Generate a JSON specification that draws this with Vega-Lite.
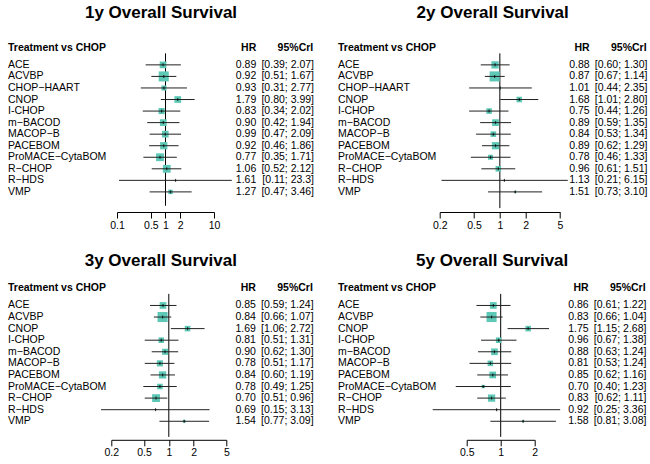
{
  "$schema": "https://vega.github.io/schema/vega-lite/v6.json",
  "padding": {"left": 8, "top": 3, "right": 2, "bottom": 2},
  "background": "white",
  "datasets": {
    "os1": [
      {"t": "ACE", "row": 1, "hr": 0.89, "lo": 0.39, "hi": 2.07, "ci": "[0.39; 2.07]", "w": 6},
      {"t": "ACVBP", "row": 2, "hr": 0.92, "lo": 0.51, "hi": 1.67, "ci": "[0.51; 1.67]", "w": 9},
      {"t": "CHOP−HAART", "row": 3, "hr": 0.93, "lo": 0.31, "hi": 2.77, "ci": "[0.31; 2.77]", "w": 4.5},
      {"t": "CNOP", "row": 4, "hr": 1.79, "lo": 0.80, "hi": 3.99, "ci": "[0.80; 3.99]", "w": 6},
      {"t": "I-CHOP", "row": 5, "hr": 0.83, "lo": 0.34, "hi": 2.02, "ci": "[0.34; 2.02]", "w": 5.5},
      {"t": "m−BACOD", "row": 6, "hr": 0.90, "lo": 0.42, "hi": 1.94, "ci": "[0.42; 1.94]", "w": 6},
      {"t": "MACOP−B", "row": 7, "hr": 0.99, "lo": 0.47, "hi": 2.09, "ci": "[0.47; 2.09]", "w": 6},
      {"t": "PACEBOM", "row": 8, "hr": 0.92, "lo": 0.46, "hi": 1.86, "ci": "[0.46; 1.86]", "w": 6.5},
      {"t": "ProMACE−CytaBOM", "row": 9, "hr": 0.77, "lo": 0.35, "hi": 1.71, "ci": "[0.35; 1.71]", "w": 7},
      {"t": "R−CHOP", "row": 10, "hr": 1.06, "lo": 0.52, "hi": 2.12, "ci": "[0.52; 2.12]", "w": 7},
      {"t": "R−HDS", "row": 11, "hr": 1.61, "lo": 0.11, "hi": 23.3, "ci": "[0.11; 23.3]", "w": 0.8},
      {"t": "VMP", "row": 12, "hr": 1.27, "lo": 0.47, "hi": 3.46, "ci": "[0.47; 3.46]", "w": 4}
    ],
    "os2": [
      {"t": "ACE", "row": 1, "hr": 0.88, "lo": 0.60, "hi": 1.30, "ci": "[0.60; 1.30]", "w": 6.5},
      {"t": "ACVBP", "row": 2, "hr": 0.87, "lo": 0.67, "hi": 1.14, "ci": "[0.67; 1.14]", "w": 9},
      {"t": "CHOP−HAART", "row": 3, "hr": 1.01, "lo": 0.44, "hi": 2.35, "ci": "[0.44; 2.35]", "w": 1.5},
      {"t": "CNOP", "row": 4, "hr": 1.68, "lo": 1.01, "hi": 2.80, "ci": "[1.01; 2.80]", "w": 5},
      {"t": "I-CHOP", "row": 5, "hr": 0.75, "lo": 0.44, "hi": 1.26, "ci": "[0.44; 1.26]", "w": 5},
      {"t": "m−BACOD", "row": 6, "hr": 0.89, "lo": 0.59, "hi": 1.35, "ci": "[0.59; 1.35]", "w": 6},
      {"t": "MACOP−B", "row": 7, "hr": 0.84, "lo": 0.53, "hi": 1.34, "ci": "[0.53; 1.34]", "w": 5},
      {"t": "PACEBOM", "row": 8, "hr": 0.89, "lo": 0.62, "hi": 1.29, "ci": "[0.62; 1.29]", "w": 6.5},
      {"t": "ProMACE−CytaBOM", "row": 9, "hr": 0.78, "lo": 0.46, "hi": 1.33, "ci": "[0.46; 1.33]", "w": 4.5},
      {"t": "R−CHOP", "row": 10, "hr": 0.96, "lo": 0.61, "hi": 1.51, "ci": "[0.61; 1.51]", "w": 5},
      {"t": "R−HDS", "row": 11, "hr": 1.13, "lo": 0.21, "hi": 6.15, "ci": "[0.21; 6.15]", "w": 0.8},
      {"t": "VMP", "row": 12, "hr": 1.51, "lo": 0.73, "hi": 3.10, "ci": "[0.73; 3.10]", "w": 2}
    ],
    "os3": [
      {"t": "ACE", "row": 1, "hr": 0.85, "lo": 0.59, "hi": 1.24, "ci": "[0.59; 1.24]", "w": 6},
      {"t": "ACVBP", "row": 2, "hr": 0.84, "lo": 0.66, "hi": 1.07, "ci": "[0.66; 1.07]", "w": 9},
      {"t": "CNOP", "row": 3, "hr": 1.69, "lo": 1.06, "hi": 2.72, "ci": "[1.06; 2.72]", "w": 5},
      {"t": "I-CHOP", "row": 4, "hr": 0.81, "lo": 0.51, "hi": 1.31, "ci": "[0.51; 1.31]", "w": 5},
      {"t": "m−BACOD", "row": 5, "hr": 0.90, "lo": 0.62, "hi": 1.30, "ci": "[0.62; 1.30]", "w": 5.5},
      {"t": "MACOP−B", "row": 6, "hr": 0.78, "lo": 0.51, "hi": 1.17, "ci": "[0.51; 1.17]", "w": 5.5},
      {"t": "PACEBOM", "row": 7, "hr": 0.84, "lo": 0.60, "hi": 1.19, "ci": "[0.60; 1.19]", "w": 6.5},
      {"t": "ProMACE−CytaBOM", "row": 8, "hr": 0.78, "lo": 0.49, "hi": 1.25, "ci": "[0.49; 1.25]", "w": 5},
      {"t": "R−CHOP", "row": 9, "hr": 0.70, "lo": 0.51, "hi": 0.96, "ci": "[0.51; 0.96]", "w": 7},
      {"t": "R−HDS", "row": 10, "hr": 0.69, "lo": 0.15, "hi": 3.13, "ci": "[0.15; 3.13]", "w": 1},
      {"t": "VMP", "row": 11, "hr": 1.54, "lo": 0.77, "hi": 3.09, "ci": "[0.77; 3.09]", "w": 2.5}
    ],
    "os5": [
      {"t": "ACE", "row": 1, "hr": 0.86, "lo": 0.61, "hi": 1.22, "ci": "[0.61; 1.22]", "w": 6},
      {"t": "ACVBP", "row": 2, "hr": 0.83, "lo": 0.66, "hi": 1.04, "ci": "[0.66; 1.04]", "w": 9},
      {"t": "CNOP", "row": 3, "hr": 1.75, "lo": 1.15, "hi": 2.68, "ci": "[1.15; 2.68]", "w": 5},
      {"t": "I-CHOP", "row": 4, "hr": 0.96, "lo": 0.67, "hi": 1.38, "ci": "[0.67; 1.38]", "w": 5},
      {"t": "m−BACOD", "row": 5, "hr": 0.88, "lo": 0.63, "hi": 1.24, "ci": "[0.63; 1.24]", "w": 6},
      {"t": "MACOP−B", "row": 6, "hr": 0.81, "lo": 0.53, "hi": 1.24, "ci": "[0.53; 1.24]", "w": 5},
      {"t": "PACEBOM", "row": 7, "hr": 0.85, "lo": 0.62, "hi": 1.16, "ci": "[0.62; 1.16]", "w": 6},
      {"t": "ProMACE−CytaBOM", "row": 8, "hr": 0.70, "lo": 0.40, "hi": 1.23, "ci": "[0.40; 1.23]", "w": 3},
      {"t": "R−CHOP", "row": 9, "hr": 0.83, "lo": 0.62, "hi": 1.11, "ci": "[0.62; 1.11]", "w": 6.5},
      {"t": "R−HDS", "row": 10, "hr": 0.92, "lo": 0.25, "hi": 3.36, "ci": "[0.25; 3.36]", "w": 1},
      {"t": "VMP", "row": 11, "hr": 1.58, "lo": 0.81, "hi": 3.08, "ci": "[0.81; 3.08]", "w": 2}
    ]
  },
  "vconcat": [
    {
      "spacing": 24,
      "hconcat": [
        {
          "title": {"text": "1y Overall Survival", "offset": 14.5},
          "bounds": "flush",
          "spacing": 22,
          "hconcat": [
            {
              "width": 87, "height": 176,
              "layer": [
                {"data": {"name": "os1"}, "mark": {"type": "text", "align": "left", "baseline": "middle", "fontSize": 10.5, "color": "black"},
                 "encoding": {"x": {"datum": 0, "type": "quantitative", "scale": {"domain": [0, 1]}, "axis": null},
                              "y": {"field": "row", "type": "quantitative", "scale": {"domain": [-1.5, 13.74], "reverse": true, "nice": false, "zero": false}, "axis": null},
                              "text": {"field": "t"}}},
                {"data": {"values": [{}]}, "mark": {"type": "text", "align": "left", "baseline": "middle", "fontSize": 10.5, "fontWeight": "bold", "color": "black"},
                 "encoding": {"x": {"datum": 0, "type": "quantitative"}, "y": {"datum": -0.5, "type": "quantitative"}, "text": {"value": "Treatment vs CHOP"}}}
              ]
            },
            {
              "width": 97, "height": 176,
              "data": {"name": "os1"},
              "layer": [
                {"data": {"values": [{}]}, "mark": {"type": "rule", "color": "black", "strokeWidth": 1},
                 "encoding": {"x": {"datum": 1, "type": "quantitative", "scale": {"type": "log", "domain": [0.1, 10], "nice": false},
                                    "axis": {"values": [0.1, 0.5, 1, 2, 10], "format": "~g", "title": null, "labelFlush": false, "labelOverlap": false, "labelBound": false, "grid": false}},
                              "y": {"datum": 0, "type": "quantitative", "scale": {"domain": [-1.5, 13.74], "reverse": true, "nice": false, "zero": false}, "axis": null},
                              "y2": {"datum": 13.2}}},
                {"mark": {"type": "point", "shape": "square", "filled": true, "color": "#5ec8b7", "opacity": 1},
                 "encoding": {"x": {"field": "hr", "type": "quantitative"}, "y": {"field": "row", "type": "quantitative"},
                              "size": {"field": "w", "type": "quantitative", "scale": {"type": "pow", "exponent": 2, "domain": [0, 10], "range": [0, 125]}, "legend": null}}},
                {"mark": {"type": "rule", "color": "#222222", "strokeWidth": 1},
                 "encoding": {"x": {"field": "lo", "type": "quantitative"}, "x2": {"field": "hi"}, "y": {"field": "row", "type": "quantitative"}}},
                {"mark": {"type": "tick", "orient": "vertical", "size": 3, "thickness": 1.2, "color": "black"},
                 "encoding": {"x": {"field": "hr", "type": "quantitative"}, "y": {"field": "row", "type": "quantitative"}}}
              ]
            },
            {
              "width": 78, "height": 176,
              "layer": [
                {"data": {"name": "os1"}, "mark": {"type": "text", "align": "right", "baseline": "middle", "fontSize": 10.5, "color": "black"},
                 "encoding": {"x": {"datum": 0.26, "type": "quantitative", "scale": {"domain": [0, 1]}, "axis": null},
                              "y": {"field": "row", "type": "quantitative", "scale": {"domain": [-1.5, 13.74], "reverse": true, "nice": false, "zero": false}, "axis": null},
                              "text": {"field": "hr", "format": ".2f"}}},
                {"data": {"name": "os1"}, "mark": {"type": "text", "align": "right", "baseline": "middle", "fontSize": 10.5, "color": "black"},
                 "encoding": {"x": {"datum": 1, "type": "quantitative"}, "y": {"field": "row", "type": "quantitative"}, "text": {"field": "ci"}}},
                {"data": {"values": [{}]}, "mark": {"type": "text", "align": "right", "baseline": "middle", "fontSize": 10.5, "fontWeight": "bold", "color": "black"},
                 "encoding": {"x": {"datum": 0.26, "type": "quantitative"}, "y": {"datum": -0.5, "type": "quantitative"}, "text": {"value": "HR"}}},
                {"data": {"values": [{}]}, "mark": {"type": "text", "align": "right", "baseline": "middle", "fontSize": 10.5, "fontWeight": "bold", "color": "black"},
                 "encoding": {"x": {"datum": 0.99, "type": "quantitative"}, "y": {"datum": -0.5, "type": "quantitative"}, "text": {"value": "95%CrI"}}}
              ]
            }
          ]
        },
        {
          "title": {"text": "2y Overall Survival", "offset": 14.5},
          "bounds": "flush",
          "spacing": 8.7,
          "hconcat": [
            {
              "width": 93, "height": 176,
              "layer": [
                {"data": {"name": "os2"}, "mark": {"type": "text", "align": "left", "baseline": "middle", "fontSize": 10.5, "color": "black"},
                 "encoding": {"x": {"datum": 0, "type": "quantitative", "scale": {"domain": [0, 1]}, "axis": null},
                              "y": {"field": "row", "type": "quantitative", "scale": {"domain": [-1.5, 13.74], "reverse": true, "nice": false, "zero": false}, "axis": null},
                              "text": {"field": "t"}}},
                {"data": {"values": [{}]}, "mark": {"type": "text", "align": "left", "baseline": "middle", "fontSize": 10.5, "fontWeight": "bold", "color": "black"},
                 "encoding": {"x": {"datum": 0, "type": "quantitative"}, "y": {"datum": -0.5, "type": "quantitative"}, "text": {"value": "Treatment vs CHOP"}}}
              ]
            },
            {
              "width": 120.3, "height": 176,
              "data": {"name": "os2"},
              "layer": [
                {"data": {"values": [{}]}, "mark": {"type": "rule", "color": "black", "strokeWidth": 1},
                 "encoding": {"x": {"datum": 1, "type": "quantitative", "scale": {"type": "log", "domain": [0.2, 5], "nice": false},
                                    "axis": {"values": [0.2, 0.5, 1, 2, 5], "format": "~g", "title": null, "labelFlush": false, "labelOverlap": false, "labelBound": false, "grid": false}},
                              "y": {"datum": 0, "type": "quantitative", "scale": {"domain": [-1.5, 13.74], "reverse": true, "nice": false, "zero": false}, "axis": null},
                              "y2": {"datum": 13.4}}},
                {"mark": {"type": "point", "shape": "square", "filled": true, "color": "#5ec8b7", "opacity": 1},
                 "encoding": {"x": {"field": "hr", "type": "quantitative"}, "y": {"field": "row", "type": "quantitative"},
                              "size": {"field": "w", "type": "quantitative", "scale": {"type": "pow", "exponent": 2, "domain": [0, 10], "range": [0, 125]}, "legend": null}}},
                {"mark": {"type": "rule", "color": "#222222", "strokeWidth": 1},
                 "encoding": {"x": {"field": "lo", "type": "quantitative"}, "x2": {"field": "hi"}, "y": {"field": "row", "type": "quantitative"}}},
                {"mark": {"type": "tick", "orient": "vertical", "size": 3, "thickness": 1.2, "color": "black"},
                 "encoding": {"x": {"field": "hr", "type": "quantitative"}, "y": {"field": "row", "type": "quantitative"}}}
              ]
            },
            {
              "width": 78, "height": 176,
              "layer": [
                {"data": {"name": "os2"}, "mark": {"type": "text", "align": "right", "baseline": "middle", "fontSize": 10.5, "color": "black"},
                 "encoding": {"x": {"datum": 0.26, "type": "quantitative", "scale": {"domain": [0, 1]}, "axis": null},
                              "y": {"field": "row", "type": "quantitative", "scale": {"domain": [-1.5, 13.74], "reverse": true, "nice": false, "zero": false}, "axis": null},
                              "text": {"field": "hr", "format": ".2f"}}},
                {"data": {"name": "os2"}, "mark": {"type": "text", "align": "right", "baseline": "middle", "fontSize": 10.5, "color": "black"},
                 "encoding": {"x": {"datum": 1, "type": "quantitative"}, "y": {"field": "row", "type": "quantitative"}, "text": {"field": "ci"}}},
                {"data": {"values": [{}]}, "mark": {"type": "text", "align": "right", "baseline": "middle", "fontSize": 10.5, "fontWeight": "bold", "color": "black"},
                 "encoding": {"x": {"datum": 0.26, "type": "quantitative"}, "y": {"datum": -0.5, "type": "quantitative"}, "text": {"value": "HR"}}},
                {"data": {"values": [{}]}, "mark": {"type": "text", "align": "right", "baseline": "middle", "fontSize": 10.5, "fontWeight": "bold", "color": "black"},
                 "encoding": {"x": {"datum": 0.99, "type": "quantitative"}, "y": {"datum": -0.5, "type": "quantitative"}, "text": {"value": "95%CrI"}}}
              ]
            }
          ]
        }
      ]
    },
    {
      "spacing": 24,
      "hconcat": [
        {
          "title": {"text": "3y Overall Survival", "offset": 6.5},
          "bounds": "flush",
          "spacing": 9.3,
          "hconcat": [
            {
              "width": 93.7, "height": 163.3,
              "layer": [
                {"data": {"name": "os3"}, "mark": {"type": "text", "align": "left", "baseline": "middle", "fontSize": 10.5, "color": "black"},
                 "encoding": {"x": {"datum": 0, "type": "quantitative", "scale": {"domain": [0, 1]}, "axis": null},
                              "y": {"field": "row", "type": "quantitative", "scale": {"domain": [-1.5, 12.6], "reverse": true, "nice": false, "zero": false}, "axis": null},
                              "text": {"field": "t"}}},
                {"data": {"values": [{}]}, "mark": {"type": "text", "align": "left", "baseline": "middle", "fontSize": 10.5, "fontWeight": "bold", "color": "black"},
                 "encoding": {"x": {"datum": 0, "type": "quantitative"}, "y": {"datum": -0.5, "type": "quantitative"}, "text": {"value": "Treatment vs CHOP"}}}
              ]
            },
            {
              "width": 115, "height": 163.3,
              "data": {"name": "os3"},
              "layer": [
                {"data": {"values": [{}]}, "mark": {"type": "rule", "color": "black", "strokeWidth": 1},
                 "encoding": {"x": {"datum": 1, "type": "quantitative", "scale": {"type": "log", "domain": [0.2, 5], "nice": false},
                                    "axis": {"values": [0.2, 0.5, 1, 2, 5], "format": "~g", "title": null, "labelFlush": false, "labelOverlap": false, "labelBound": false, "grid": false}},
                              "y": {"datum": 0, "type": "quantitative", "scale": {"domain": [-1.5, 12.6], "reverse": true, "nice": false, "zero": false}, "axis": null},
                              "y2": {"datum": 12.35}}},
                {"mark": {"type": "point", "shape": "square", "filled": true, "color": "#5ec8b7", "opacity": 1},
                 "encoding": {"x": {"field": "hr", "type": "quantitative"}, "y": {"field": "row", "type": "quantitative"},
                              "size": {"field": "w", "type": "quantitative", "scale": {"type": "pow", "exponent": 2, "domain": [0, 10], "range": [0, 125]}, "legend": null}}},
                {"mark": {"type": "rule", "color": "#222222", "strokeWidth": 1},
                 "encoding": {"x": {"field": "lo", "type": "quantitative"}, "x2": {"field": "hi"}, "y": {"field": "row", "type": "quantitative"}}},
                {"mark": {"type": "tick", "orient": "vertical", "size": 3, "thickness": 1.2, "color": "black"},
                 "encoding": {"x": {"field": "hr", "type": "quantitative"}, "y": {"field": "row", "type": "quantitative"}}}
              ]
            },
            {
              "width": 78, "height": 163.3,
              "layer": [
                {"data": {"name": "os3"}, "mark": {"type": "text", "align": "right", "baseline": "middle", "fontSize": 10.5, "color": "black"},
                 "encoding": {"x": {"datum": 0.26, "type": "quantitative", "scale": {"domain": [0, 1]}, "axis": null},
                              "y": {"field": "row", "type": "quantitative", "scale": {"domain": [-1.5, 12.6], "reverse": true, "nice": false, "zero": false}, "axis": null},
                              "text": {"field": "hr", "format": ".2f"}}},
                {"data": {"name": "os3"}, "mark": {"type": "text", "align": "right", "baseline": "middle", "fontSize": 10.5, "color": "black"},
                 "encoding": {"x": {"datum": 1, "type": "quantitative"}, "y": {"field": "row", "type": "quantitative"}, "text": {"field": "ci"}}},
                {"data": {"values": [{}]}, "mark": {"type": "text", "align": "right", "baseline": "middle", "fontSize": 10.5, "fontWeight": "bold", "color": "black"},
                 "encoding": {"x": {"datum": 0.26, "type": "quantitative"}, "y": {"datum": -0.5, "type": "quantitative"}, "text": {"value": "HR"}}},
                {"data": {"values": [{}]}, "mark": {"type": "text", "align": "right", "baseline": "middle", "fontSize": 10.5, "fontWeight": "bold", "color": "black"},
                 "encoding": {"x": {"datum": 0.99, "type": "quantitative"}, "y": {"datum": -0.5, "type": "quantitative"}, "text": {"value": "95%CrI"}}}
              ]
            }
          ]
        },
        {
          "title": {"text": "5y Overall Survival", "offset": 6.5},
          "bounds": "flush",
          "spacing": 33.7,
          "hconcat": [
            {
              "width": 94.3, "height": 163.3,
              "layer": [
                {"data": {"name": "os5"}, "mark": {"type": "text", "align": "left", "baseline": "middle", "fontSize": 10.5, "color": "black"},
                 "encoding": {"x": {"datum": 0, "type": "quantitative", "scale": {"domain": [0, 1]}, "axis": null},
                              "y": {"field": "row", "type": "quantitative", "scale": {"domain": [-1.5, 12.6], "reverse": true, "nice": false, "zero": false}, "axis": null},
                              "text": {"field": "t"}}},
                {"data": {"values": [{}]}, "mark": {"type": "text", "align": "left", "baseline": "middle", "fontSize": 10.5, "fontWeight": "bold", "color": "black"},
                 "encoding": {"x": {"datum": 0, "type": "quantitative"}, "y": {"datum": -0.5, "type": "quantitative"}, "text": {"value": "Treatment vs CHOP"}}}
              ]
            },
            {
              "width": 68, "height": 163.3,
              "data": {"name": "os5"},
              "layer": [
                {"data": {"values": [{}]}, "mark": {"type": "rule", "color": "black", "strokeWidth": 1},
                 "encoding": {"x": {"datum": 1, "type": "quantitative", "scale": {"type": "log", "domain": [0.5, 2], "nice": false},
                                    "axis": {"values": [0.5, 1, 2], "format": "~g", "title": null, "labelFlush": false, "labelOverlap": false, "labelBound": false, "grid": false}},
                              "y": {"datum": 0, "type": "quantitative", "scale": {"domain": [-1.5, 12.6], "reverse": true, "nice": false, "zero": false}, "axis": null},
                              "y2": {"datum": 12.35}}},
                {"mark": {"type": "point", "shape": "square", "filled": true, "color": "#5ec8b7", "opacity": 1},
                 "encoding": {"x": {"field": "hr", "type": "quantitative"}, "y": {"field": "row", "type": "quantitative"},
                              "size": {"field": "w", "type": "quantitative", "scale": {"type": "pow", "exponent": 2, "domain": [0, 10], "range": [0, 125]}, "legend": null}}},
                {"mark": {"type": "rule", "color": "#222222", "strokeWidth": 1},
                 "encoding": {"x": {"field": "lo", "type": "quantitative"}, "x2": {"field": "hi"}, "y": {"field": "row", "type": "quantitative"}}},
                {"mark": {"type": "tick", "orient": "vertical", "size": 3, "thickness": 1.2, "color": "black"},
                 "encoding": {"x": {"field": "hr", "type": "quantitative"}, "y": {"field": "row", "type": "quantitative"}}}
              ]
            },
            {
              "width": 78, "height": 163.3,
              "layer": [
                {"data": {"name": "os5"}, "mark": {"type": "text", "align": "right", "baseline": "middle", "fontSize": 10.5, "color": "black"},
                 "encoding": {"x": {"datum": 0.26, "type": "quantitative", "scale": {"domain": [0, 1]}, "axis": null},
                              "y": {"field": "row", "type": "quantitative", "scale": {"domain": [-1.5, 12.6], "reverse": true, "nice": false, "zero": false}, "axis": null},
                              "text": {"field": "hr", "format": ".2f"}}},
                {"data": {"name": "os5"}, "mark": {"type": "text", "align": "right", "baseline": "middle", "fontSize": 10.5, "color": "black"},
                 "encoding": {"x": {"datum": 1, "type": "quantitative"}, "y": {"field": "row", "type": "quantitative"}, "text": {"field": "ci"}}},
                {"data": {"values": [{}]}, "mark": {"type": "text", "align": "right", "baseline": "middle", "fontSize": 10.5, "fontWeight": "bold", "color": "black"},
                 "encoding": {"x": {"datum": 0.26, "type": "quantitative"}, "y": {"datum": -0.5, "type": "quantitative"}, "text": {"value": "HR"}}},
                {"data": {"values": [{}]}, "mark": {"type": "text", "align": "right", "baseline": "middle", "fontSize": 10.5, "fontWeight": "bold", "color": "black"},
                 "encoding": {"x": {"datum": 0.99, "type": "quantitative"}, "y": {"datum": -0.5, "type": "quantitative"}, "text": {"value": "95%CrI"}}}
              ]
            }
          ]
        }
      ]
    }
  ],
  "spacing": 20.5,
  "config": {
    "font": "Liberation Sans",
    "view": {"stroke": null},
    "title": {"fontSize": 17, "fontWeight": "bold", "color": "black", "anchor": "middle"},
    "axis": {"domainColor": "black", "tickColor": "black", "labelColor": "black", "labelFontSize": 10.5, "tickSize": 6, "labelPadding": 2, "domainWidth": 1, "tickWidth": 1}
  }
}
